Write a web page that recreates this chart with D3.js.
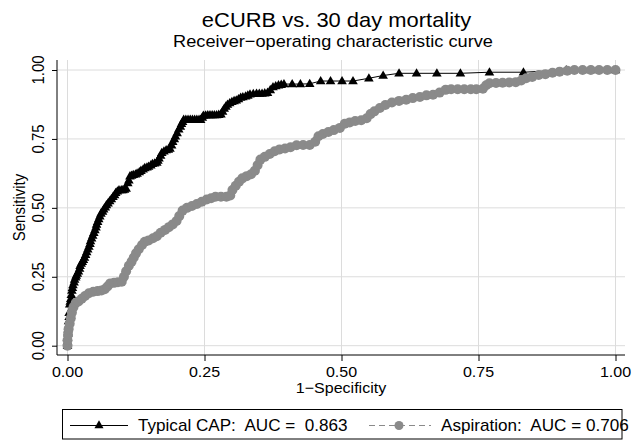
<!DOCTYPE html>
<html>
<head>
<meta charset="utf-8">
<script src="https://cdn.jsdelivr.net/npm/d3@7"></script>
<style>
  html, body { margin: 0; padding: 0; background: #fff; }
  svg text { font-family: "Liberation Sans", Arial, Helvetica, sans-serif; white-space: pre; }
</style>
</head>
<body>
<svg id="chart" width="643" height="441"></svg>
<script>
// ---------------- DATA ----------------
const titleText = "eCURB vs. 30 day mortality";
const subtitleText = "Receiver\u2212operating characteristic curve";
const xAxisTitle = "1\u2212Specificity";
const yAxisTitle = "Sensitivity";
const tickValues = [0, 0.25, 0.5, 0.75, 1];
const tickLabels = ["0.00", "0.25", "0.50", "0.75", "1.00"];
const seriesNames = ["Typical CAP:  AUC =  0.863", "Aspiration:  AUC = 0.706"];

// Typical CAP ROC points (1-specificity, sensitivity)
const capFpr = [0,0,0,0.001,0.001,0.002,0.002,0.003,0.003,0.004,0.005,0.006,0.007,0.008,0.009,0.010,0.012,0.013,0.015,0.016,
  0.018,0.020,0.022,0.023,0.025,0.027,0.029,0.031,0.033,0.035,0.037,0.039,0.041,0.042,0.044,0.046,0.048,0.050,0.052,0.053,
  0.055,0.057,0.059,0.061,0.064,0.066,0.069,0.071,0.074,0.077,0.080,0.083,0.086,0.088,0.091,0.094,0.098,0.101,0.104,0.107,
  0.110,0.112,0.114,0.117,0.120,0.124,0.127,0.131,0.134,0.138,0.141,0.145,0.148,0.152,0.155,0.159,0.163,0.165,0.167,0.170,
  0.172,0.176,0.180,0.184,0.187,0.190,0.192,0.195,0.197,0.200,0.203,0.206,0.208,0.210,0.212,0.216,0.220,0.224,0.228,0.232,
  0.236,0.240,0.243,0.246,0.248,0.252,0.256,0.260,0.264,0.268,0.272,0.276,0.280,0.283,0.286,0.289,0.292,0.296,0.300,0.304,
  0.308,0.312,0.316,0.320,0.325,0.329,0.333,0.339,0.345,0.350,0.355,0.360,0.365,0.370,0.375,0.380,0.385,0.390,0.395,0.410,
  0.425,0.442,0.462,0.480,0.501,0.521,0.550,0.576,0.605,0.637,0.674,0.717,0.770,0.832,0.910,0.955,1];
const capTpr = [0,0.015,0.03,0.045,0.06,0.075,0.09,0.105,0.12,0.15,0.16,0.17,0.185,0.20,0.21,0.22,0.23,0.24,0.248,0.255,
  0.262,0.27,0.28,0.29,0.298,0.305,0.312,0.32,0.33,0.34,0.35,0.36,0.37,0.38,0.39,0.40,0.41,0.42,0.43,0.44,
  0.45,0.46,0.47,0.48,0.487,0.495,0.502,0.51,0.517,0.525,0.532,0.54,0.547,0.555,0.56,0.565,0.565,0.565,0.567,0.57,
  0.59,0.60,0.615,0.617,0.62,0.622,0.625,0.63,0.635,0.64,0.645,0.647,0.65,0.655,0.66,0.662,0.665,0.672,0.68,0.69,
  0.70,0.705,0.71,0.712,0.715,0.727,0.74,0.75,0.76,0.772,0.785,0.795,0.805,0.812,0.82,0.82,0.82,0.82,0.82,0.82,
  0.82,0.82,0.82,0.828,0.835,0.836,0.837,0.837,0.837,0.837,0.837,0.838,0.84,0.85,0.86,0.868,0.875,0.88,0.885,0.888,
  0.89,0.895,0.90,0.902,0.905,0.908,0.912,0.914,0.915,0.915,0.915,0.916,0.918,0.928,0.938,0.942,0.945,0.947,0.949,0.949,
  0.949,0.95,0.96,0.96,0.96,0.96,0.97,0.98,0.988,0.988,0.988,0.988,0.992,0.992,1,1,1];

// Aspiration ROC points
const aspFpr = [0,0,0.001,0.002,0.004,0.006,0.008,0.011,0.015,0.020,0.026,0.032,0.039,0.047,0.055,0.062,0.068,0.073,0.078,0.085,
  0.092,0.099,0.103,0.107,0.112,0.117,0.121,0.125,0.130,0.136,0.141,0.148,0.156,0.163,0.170,0.178,0.185,0.192,0.199,0.204,
  0.210,0.218,0.227,0.236,0.245,0.254,0.262,0.270,0.280,0.290,0.297,0.301,0.307,0.313,0.319,0.327,0.335,0.342,0.347,0.352,
  0.360,0.369,0.378,0.387,0.397,0.407,0.418,0.430,0.442,0.452,0.458,0.466,0.476,0.486,0.497,0.506,0.515,0.525,0.536,0.546,
  0.553,0.560,0.570,0.580,0.592,0.605,0.618,0.630,0.643,0.655,0.667,0.679,0.690,0.700,0.712,0.724,0.736,0.746,0.758,0.764,
  0.770,0.782,0.794,0.806,0.818,0.828,0.837,0.848,0.860,0.872,0.885,0.898,0.912,0.925,0.940,0.955,0.970,0.985,1];
const aspTpr = [0,0.02,0.04,0.06,0.08,0.10,0.12,0.14,0.155,0.16,0.17,0.18,0.19,0.196,0.198,0.20,0.205,0.215,0.226,0.228,
  0.23,0.232,0.25,0.27,0.29,0.305,0.32,0.335,0.35,0.365,0.377,0.382,0.39,0.397,0.41,0.42,0.43,0.44,0.452,0.47,
  0.49,0.50,0.507,0.514,0.522,0.53,0.535,0.54,0.54,0.54,0.545,0.565,0.58,0.595,0.607,0.615,0.622,0.635,0.655,0.675,
  0.685,0.695,0.705,0.712,0.715,0.72,0.727,0.728,0.728,0.74,0.76,0.768,0.775,0.782,0.79,0.805,0.81,0.815,0.818,0.825,
  0.84,0.85,0.862,0.873,0.882,0.888,0.892,0.898,0.902,0.908,0.91,0.918,0.928,0.93,0.93,0.93,0.93,0.93,0.932,0.945,
  0.952,0.953,0.954,0.955,0.956,0.962,0.97,0.975,0.982,0.985,0.99,0.994,0.997,1,1,1,1,1,1];

// ---------------- DRAWING ----------------
const svg = d3.select("#chart");
const SX = 1.07; // slight horizontal text stretch seen in the reference

function txt(x, y, s, size, anchor, rot, color) {
  const t = svg.append("text")
    .attr("text-anchor", anchor || "middle")
    .attr("font-size", size)
    .attr("fill", color || "#000")
    .text(s);
  if (rot) t.attr("transform", `translate(${x},${y}) rotate(-90) scale(1,${SX})`);
  else t.attr("transform", `translate(${x},${y}) scale(${SX},1)`);
  return t;
}

const x = d3.scaleLinear().domain([0, 1]).range([67.5, 615.5]);
const y = d3.scaleLinear().domain([0, 1]).range([345.7, 70]);
const plotL = 57, plotR = 625, plotT = 60, plotB = 355;

// gridlines
const grid = svg.append("g").attr("stroke", "#dcdcdc").attr("stroke-width", 1);
tickValues.forEach(v => {
  grid.append("line").attr("x1", plotL).attr("x2", plotR).attr("y1", y(v)).attr("y2", y(v));
  grid.append("line").attr("y1", plotT).attr("y2", plotB).attr("x1", x(v)).attr("x2", x(v));
});

// axes
const xAxis = d3.axisBottom(x).tickValues(tickValues).tickSize(6).tickSizeOuter(0);
const gx = svg.append("g").attr("transform", `translate(0,${plotB})`).call(xAxis);
gx.select(".domain").remove();
gx.selectAll(".tick line").attr("stroke", "#000");
gx.selectAll(".tick text").remove();
svg.append("line").attr("x1", plotL).attr("x2", plotR).attr("y1", plotB).attr("y2", plotB).attr("stroke", "#000");

const yAxis = d3.axisLeft(y).tickValues(tickValues).tickSize(5).tickSizeOuter(0);
const gy = svg.append("g").attr("transform", `translate(${plotL},0)`).call(yAxis);
gy.select(".domain").remove();
gy.selectAll(".tick line").attr("stroke", "#000");
gy.selectAll(".tick text").remove();
svg.append("line").attr("x1", plotL).attr("x2", plotL).attr("y1", plotT).attr("y2", plotB).attr("stroke", "#000");

tickValues.forEach((v, i) => {
  txt(x(v), 377, tickLabels[i], 15, "middle");
  txt(44, y(v), tickLabels[i], 15, "middle", true);
});

// series data
const cap = capFpr.map((f, i) => [f, capTpr[i]]);
const asp = aspFpr.map((f, i) => [f, aspTpr[i]]);
const line = d3.line().x(d => x(d[0])).y(d => y(d[1]));
const GRAY = "#8a8a8a";

// Typical CAP
svg.append("path").datum(cap).attr("d", line).attr("fill", "none").attr("stroke", "#000").attr("stroke-width", 1);
svg.append("g").selectAll("path").data(cap).join("path")
  .attr("d", d3.symbol(d3.symbolTriangle, 40))
  .attr("transform", d => `translate(${x(d[0])},${y(d[1]) + 0.5})`)
  .attr("fill", "#000");

// Aspiration
svg.append("path").datum(asp).attr("d", line).attr("fill", "none").attr("stroke", GRAY)
  .attr("stroke-width", 1).attr("stroke-dasharray", "6,4");
svg.append("g").selectAll("circle").data(asp).join("circle")
  .attr("cx", d => x(d[0])).attr("cy", d => y(d[1])).attr("r", 5).attr("fill", GRAY);

// titles
txt(336.5, 27, titleText, 20.5, "middle");
txt(333, 47, subtitleText, 17, "middle");
txt(341, 393, xAxisTitle, 15, "middle");
txt(25, 207.5, yAxisTitle, 15, "middle", true);

// legend
const lg = svg.append("g");
lg.append("rect").attr("x", 62.5).attr("y", 409.5).attr("width", 559.5).attr("height", 29.5)
  .attr("fill", "#fff").attr("stroke", "#000").attr("stroke-width", 1);
const ly = 425.5;
lg.append("line").attr("x1", 70).attr("x2", 128).attr("y1", ly).attr("y2", ly).attr("stroke", "#000");
lg.append("path").attr("d", d3.symbol(d3.symbolTriangle, 36)).attr("transform", `translate(99,${ly})`).attr("fill", "#000");
lg.append("line").attr("x1", 369).attr("x2", 431).attr("y1", ly).attr("y2", ly).attr("stroke", GRAY).attr("stroke-dasharray", "6,4");
lg.append("circle").attr("cx", 399).attr("cy", ly).attr("r", 4.5).attr("fill", GRAY);
txt(138, 431, seriesNames[0], 16, "start");
txt(441, 431, seriesNames[1], 16, "start");
</script>
</body>
</html>
